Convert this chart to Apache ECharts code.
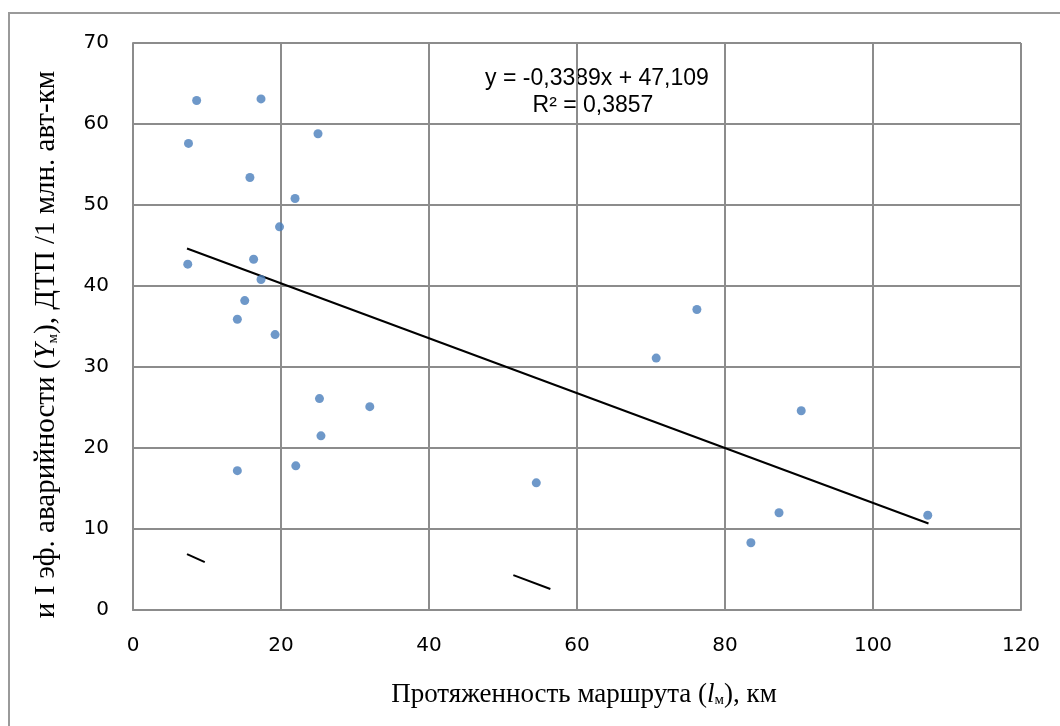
<!DOCTYPE html>
<html>
<head>
<meta charset="utf-8">
<script src="https://cdn.jsdelivr.net/npm/echarts@6/dist/echarts.min.js"></script>
<style>html,body{margin:0;padding:0;background:#fff}#c{width:1060px;height:726px}</style>
</head>
<body>
<div id="c"></div>
<script>
// Route length, km
var routeLength = [7.5, 8.6, 7.4, 17.3, 25.0, 15.8, 21.9, 19.8, 16.3, 17.3, 15.1, 14.1, 19.2, 25.2, 32.0, 25.4, 22.0, 14.1, 54.5, 70.7, 76.2, 90.3, 87.3, 83.5, 107.4];
// Accident coefficient
var accidentRate = [57.6, 62.9, 42.7, 63.1, 58.8, 53.4, 50.8, 47.3, 43.3, 40.8, 38.2, 35.9, 34.0, 26.1, 25.1, 21.5, 17.8, 17.2, 15.7, 31.1, 37.1, 24.6, 12.0, 8.3, 11.7];
// Linear trend: y = -0.3389x + 47.109
var trendSlope = -0.3389;
var trendIntercept = 47.109;
var trendX = [7.3, 107.5];
// Stray stroke fragments visible in the picture
var fragmentA = [[7.3, 6.9], [9.7, 5.9]];
var fragmentB = [[51.4, 4.3], [56.4, 2.6]];
var xTicks = [0, 20, 40, 60, 80, 100, 120];
var yTicks = [0, 10, 20, 30, 40, 50, 60, 70];

var scatterData = routeLength.map(function (x, i) { return [x, accidentRate[i]]; });
var trendData = trendX.map(function (x) { return [x, trendSlope * x + trendIntercept]; });

var gridColor = '#8c8c8c';
var chart = echarts.init(document.getElementById('c'));
chart.setOption({
  animation: false,
  backgroundColor: '#fff',
  grid: { left: 133, right: 39, top: 43, bottom: 116 },
  graphic: [
    { type: 'rect', shape: { x: 9, y: 13, width: 1080, height: 740 }, style: { fill: 'none', stroke: '#9a9a9a', lineWidth: 2 }, silent: true },
    { type: 'text', x: 597, y: 79, style: { text: 'y = -0,3389x + 47,109', font: '23px "Liberation Sans", Arial, sans-serif', fill: '#000', align: 'center', verticalAlign: 'middle' } },
    { type: 'text', x: 593, y: 106, style: { text: 'R² = 0,3857', font: '23px "Liberation Sans", Arial, sans-serif', fill: '#000', align: 'center', verticalAlign: 'middle' } }
  ],
  xAxis: {
    type: 'value', min: 0, max: 120, interval: 20,
    axisLine: { show: true, lineStyle: { color: gridColor, width: 2 } },
    axisTick: { show: false },
    splitLine: { show: true, lineStyle: { color: gridColor, width: 2 } },
    axisLabel: { margin: 26, color: '#000', fontSize: 20, fontFamily: 'DejaVu Sans',
      formatter: function (v) { return xTicks.indexOf(v) >= 0 ? String(v) : ''; } },
    name: '{t|Протяженность маршрута (}{i|l}{s|м}{t|), км}',
    nameLocation: 'middle', nameGap: 71,
    nameTextStyle: { padding: [0, 0, 0, 14], rich: {
      t: { fontFamily: 'Liberation Serif', fontSize: 27, color: '#000' },
      i: { fontFamily: 'Liberation Serif', fontStyle: 'italic', fontSize: 27, color: '#000' },
      s: { fontFamily: 'Liberation Serif', fontSize: 15, color: '#000', verticalAlign: 'bottom', padding: [12, 0, 0, 0] }
    } }
  },
  yAxis: {
    type: 'value', min: 0, max: 70, interval: 10,
    axisLine: { show: true, lineStyle: { color: gridColor, width: 2 } },
    axisTick: { show: false },
    splitLine: { show: true, lineStyle: { color: gridColor, width: 2 } },
    axisLabel: { margin: 24, color: '#000', fontSize: 20, fontFamily: 'DejaVu Sans',
      formatter: function (v) { return yTicks.indexOf(v) >= 0 ? String(v) : ''; } },
    name: '{t|и I эф. аварийности (}{i|Y}{s|м}{t|), ДТП /1 млн. авт-км}',
    nameLocation: 'middle', nameGap: 72, nameRotate: 90,
    nameTextStyle: { padding: [0, 36, 0, 0], rich: {
      t: { fontFamily: 'Liberation Serif', fontSize: 29, color: '#000' },
      i: { fontFamily: 'Liberation Serif', fontStyle: 'italic', fontSize: 29, color: '#000' },
      s: { fontFamily: 'Liberation Serif', fontSize: 15, color: '#000', verticalAlign: 'bottom', padding: [12, 0, 0, 0] }
    } }
  },
  series: [
    { type: 'line', data: trendData, symbol: 'none', lineStyle: { color: '#000', width: 2 }, z: 3 },
    { type: 'line', data: fragmentA, symbol: 'none', lineStyle: { color: '#000', width: 2 }, z: 3 },
    { type: 'line', data: fragmentB, symbol: 'none', lineStyle: { color: '#000', width: 2 }, z: 3 },
    { type: 'scatter', data: scatterData, symbol: 'circle', symbolSize: 9, itemStyle: { color: '#4a7ebb' }, z: 4 }
  ]
});
</script>
</body>
</html>
